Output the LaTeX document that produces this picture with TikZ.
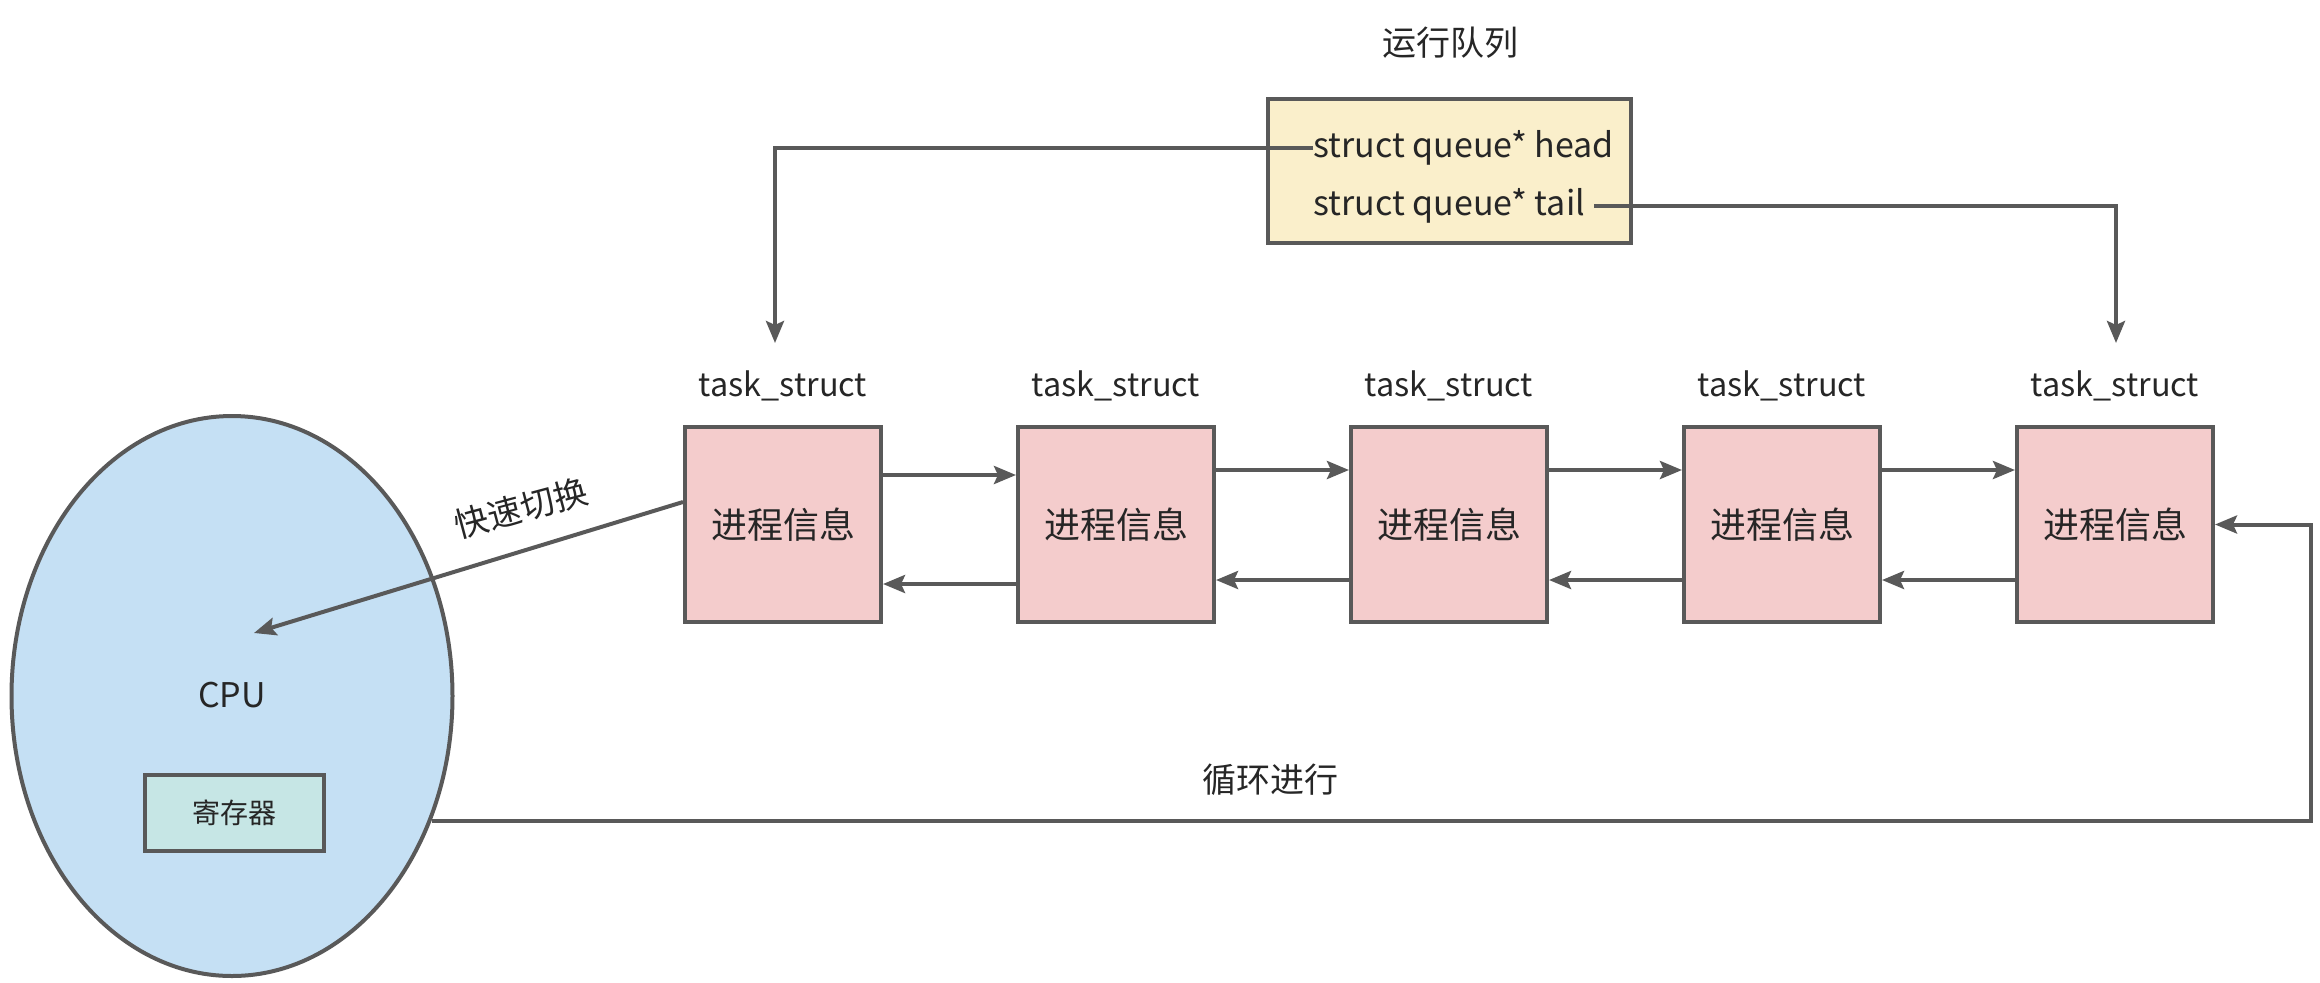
\documentclass[tikz,border=0pt]{standalone}
\usepackage{fontspec}
\setmainfont{Noto Sans CJK SC}
\usetikzlibrary{shapes.geometric,arrows.meta}
\definecolor{linec}{HTML}{595959}
\definecolor{pinkf}{HTML}{F4CCCC}
\definecolor{queuef}{HTML}{FAEFCB}
\definecolor{cpuf}{HTML}{C5E0F4}
\definecolor{regf}{HTML}{C6E6E5}
\definecolor{txt}{HTML}{262626}
\tikzset{
  lbl/.style={font=\fontsize{17}{20}\selectfont, text=txt, inner sep=0pt},
  tlbl/.style={font=\fontsize{16.2}{19}\selectfont, text=txt, inner sep=0pt},
  taskbox/.style={draw=linec, line width=2pt, fill=pinkf, minimum width=98pt, minimum height=97.5pt, inner sep=0pt, font=\fontsize{18}{20}\selectfont, text=txt},
  qbox/.style={draw=linec, line width=2pt, fill=queuef, minimum width=181.5pt, minimum height=72pt, inner sep=0pt},
  arr/.style={draw=linec, line width=2pt, -{Stealth[length=11pt,width=9pt,inset=2pt]}},
  ln/.style={draw=linec, line width=2pt},
}
\begin{document}
\begin{tikzpicture}[x=0.5pt,y=-0.5pt]
\useasboundingbox (0,0) rectangle (2320,982);
% queue
\node[lbl] (title) at (1450,43) {运行队列};
\node[qbox] (q) at (1449.5,171) {};
\node[lbl, anchor=west] (hd) at (1313,148) {struct queue* head};
\node[lbl, anchor=west] (tl) at (1313,206) {struct queue* tail};
% tasks
\foreach \i/\x in {1/783,2/1116,3/1449,4/1782,5/2115}{
  \node[taskbox] (t\i) at (\x,524.5) {进程信息};
  \node[tlbl] (l\i) at (\x,386) {task\_struct};
}
\coordinate (h1) at (775,343);
\coordinate (h5) at (2116,343);
\draw[arr] (hd.west) -| (h1);
\draw[arr] ([xshift=4.5pt]tl.east) -| (h5);
% forward / back links
\draw[arr] (t1.east |- 0,475) -- (t2.west |- 0,475);
\draw[arr] (t2.west |- 0,584) -- (t1.east |- 0,584);
\foreach \a/\b in {2/3,3/4,4/5}{
  \draw[arr] (t\a.east |- 0,470) -- (t\b.west |- 0,470);
  \draw[arr] (t\b.west |- 0,580) -- (t\a.east |- 0,580);
}
% cpu
\node[ellipse, draw=linec, line width=2pt, fill=cpuf, minimum width=220.5pt, minimum height=280pt, inner sep=0pt] (cpu) at (232,696) {};
\node[lbl] (cpul) at (232,695) {CPU};
\node[draw=linec, line width=2pt, fill=regf, minimum width=89.5pt, minimum height=38pt, inner sep=0pt, font=\fontsize{14}{16}\selectfont, text=txt] (reg) at (234.5,813) {寄存器};
\coordinate (ct) at (254,633);
\draw[arr] (t1.west |- 0,502) -- (ct);
\node[lbl, rotate=15] (fast) at (521,508) {快速切换};
% loop
\coordinate (lp) at (2311,823);
\draw[arr] (cpu.-32.9) -- (cpu.-32.9 -| lp) |- (t5.east);
\node[lbl] (loopl) at (1270,780) {循环进行};
\end{tikzpicture}
\end{document}
